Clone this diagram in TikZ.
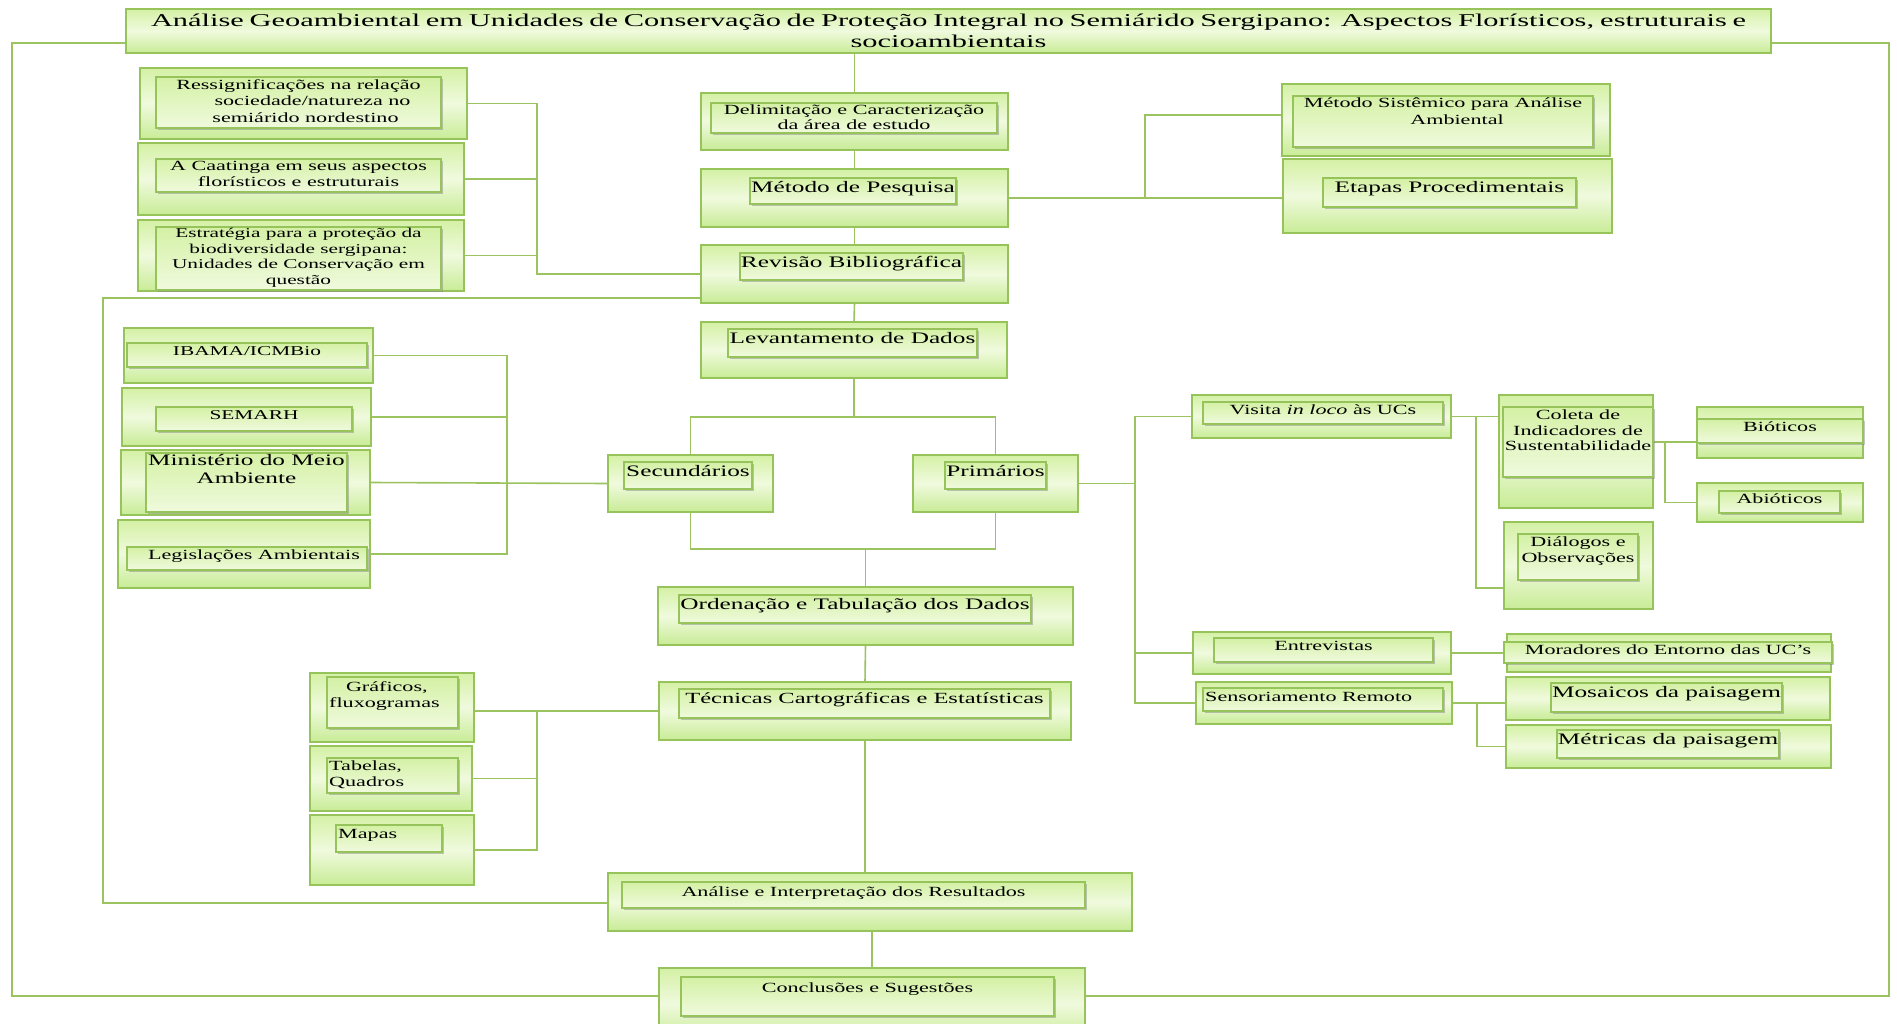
\documentclass[tikz,border=0pt]{standalone}
\usepackage{fontspec}
\setmainfont{Liberation Serif}[FakeStretch=1.58]
\newfontfamily\titlefont{Liberation Serif}[FakeStretch=1.69]
\usepackage{tikz}
\usetikzlibrary{positioning}
\usetikzlibrary{backgrounds}
\usetikzlibrary{shadows}
\definecolor{gline}{RGB}{155,195,95}
\definecolor{gborder}{RGB}{150,195,90}
\definecolor{gtop}{RGB}{212,241,165}
\definecolor{gmid}{RGB}{240,250,222}
\definecolor{gbot}{RGB}{200,236,150}
\newcommand{\fsz}[2]{\fontsize{#1}{#2}\selectfont}
\tikzset{outerbox/.style={draw=gborder, line width=1.6pt, top color=gtop, bottom color=gbot, middle color=gmid, inner sep=0pt, outer sep=0pt},
 innerbox/.style={draw=gborder, line width=1.4pt, top color=gtop, bottom color=gmid, inner sep=0pt, outer sep=0pt,
   drop shadow={shadow xshift=1.5pt, shadow yshift=-2pt, opacity=.45}},
 link/.style={draw=gline, line width=1.6pt},
 txt/.style={anchor=north, inner sep=0pt, align=center, text=black},
 }
\newcommand{\obox}[5]{\node[outerbox, minimum width={(#4-#2)*1pt}, minimum height={(#5-#3)*1pt}] (#1) at ({(#2+#4)/2},{(#3+#5)/2}) {};}
\newcommand{\ibox}[5]{\node[innerbox, minimum width={(#4-#2)*1pt}, minimum height={(#5-#3)*1pt}] (#1) at ({(#2+#4)/2},{(#3+#5)/2}) {};}

\begin{document}
\begin{tikzpicture}[x=1pt, y=-1pt]
        \useasboundingbox (0,0) rectangle (1897,1024);
        % title
        \obox{titulo}{126}{9}{1771}{53}
        \node[txt, anchor=center, font={\titlefont\fsz{18}{21}}] (tituloT) at (titulo.center) {\makebox[1595pt][s]{Análise Geoambiental em Unidades de Conservação de Proteção Integral no Semiárido Sergipano: Aspectos Florísticos, estruturais e}\\ socioambientais};
        % central column
        \obox{delim}{701}{93}{1008}{150}
        \ibox{delimIn}{711}{103}{997}{133}
        \node[txt, font={\fsz{14}{15}}, below=2pt of delimIn.north] (delimT) {Delimitação  e Caracterização\\ da área de estudo};
        \obox{metodo}{701}{169}{1008}{227}
        \ibox{metodoIn}{750}{178}{956}{204}
        \node[txt, font={\fsz{16}{18}}, below=3pt of metodoIn.north] (metodoT) {Método de Pesquisa};
        \obox{revisao}{701}{245}{1008}{303}
        \ibox{revisaoIn}{740}{253}{963}{280}
        \node[txt, font={\fsz{16}{18}}, below=3pt of revisaoIn.north] (revisaoT) {Revisão Bibliográfica};
        \obox{levant}{701}{322}{1007}{378}
        \ibox{levantIn}{728}{329}{977}{357}
        \node[txt, font={\fsz{16}{18}}, below=3pt of levantIn.north] (levantT) {Levantamento de Dados};
        \obox{secund}{608}{455}{773}{512}
        \ibox{secundIn}{624}{462}{752}{489}
        \node[txt, font={\fsz{16}{18}}, below=3pt of secundIn.north] (secundT) {Secundários};
        \obox{prim}{913}{455}{1078}{512}
        \ibox{primIn}{945}{462}{1046}{489}
        \node[txt, font={\fsz{16}{18}}, below=3pt of primIn.north] (primT) {Primários};
        \obox{ordena}{658}{587}{1073}{645}
        \ibox{ordenaIn}{679}{595}{1031}{623}
        \node[txt, font={\fsz{16}{18}}, below=3pt of ordenaIn.north] (ordenaT) {Ordenação  e  Tabulação dos Dados};
        \obox{tecnicas}{659}{682}{1071}{740}
        \ibox{tecnicasIn}{679}{689}{1050}{718}
        \node[txt, font={\fsz{15.5}{18}}, below=3pt of tecnicasIn.north] (tecnicasT) {Técnicas  Cartográficas e Estatísticas};
        \obox{analise}{608}{873}{1132}{931}
        \ibox{analiseIn}{622}{882}{1085}{908}
        \node[txt, font={\fsz{14}{16}}, below=5pt of analiseIn.north] (analiseT) {Análise  e Interpretação dos Resultados};
        \obox{conclus}{659}{968}{1085}{1040}
        \ibox{conclusIn}{681}{977}{1054}{1016}
        \node[txt, font={\fsz{14}{16}}, below=6pt of conclusIn.north] (conclusT) {Conclusões e Sugestões};
        % left column, top
        \obox{ressig}{140}{68}{467}{139}
        \ibox{ressigIn}{156}{77}{441}{128}
        \node[txt, font={\fsz{14}{16.5}}, below=2pt of ressigIn.north] (ressigT) {Ressignificações na relação\\ \hspace{2em}sociedade/natureza no\\ \hspace{1em}semiárido  nordestino};
        \obox{caat}{138}{143}{464}{215}
        \ibox{caatIn}{156}{159}{441}{192}
        \node[txt, font={\fsz{14}{16}}, below=2pt of caatIn.north] (caatT) {A Caatinga  em seus aspectos\\ florísticos e estruturais};
        \obox{estr}{138}{220}{464}{291}
        \ibox{estrIn}{156}{227}{441}{290}
        \node[txt, font={\fsz{13.5}{15.6}}, below=1pt of estrIn.north] (estrT) {Estratégia  para a proteção da\\ biodiversidade sergipana:\\ Unidades  de Conservação em\\ questão};
        % left column, sources
        \obox{ibama}{124}{328}{373}{383}
        \ibox{ibamaIn}{127}{343}{367}{367}
        \node[txt, font={\fsz{13.5}{15}}, below=3pt of ibamaIn.north] (ibamaT) {IBAMA/ICMBio};
        \obox{semarh}{122}{388}{371}{446}
        \ibox{semarhIn}{156}{407}{352}{431}
        \node[txt, font={\fsz{13.5}{15}}, below=3pt of semarhIn.north] (semarhT) {SEMARH};
        \obox{minist}{121}{450}{370}{515}
        \ibox{ministIn}{146}{453}{347}{512}
        \node[txt, font={\fsz{16}{18}}, below=1pt of ministIn.north] (ministT) {Ministério do Meio\\ Ambiente};
        \obox{legis}{118}{520}{370}{588}
        \ibox{legisIn}{127}{547}{367}{570}
        \node[txt, font={\fsz{14}{16}}, below=3pt of legisIn.north] (legisT) {\hspace{1em}Legislações  Ambientais};
        % left column, products
        \obox{graficos}{310}{673}{474}{742}
        \ibox{graficosIn}{327}{677}{458}{728}
        \node[txt, anchor=north west, align=left, font={\fsz{14}{16}}, below right=4pt and 2pt of graficosIn.north west] (graficosT) {\hspace{1.2em}Gráficos,\\ fluxogramas};
        \obox{tabelas}{310}{746}{472}{811}
        \ibox{tabelasIn}{327}{758}{458}{793}
        \node[txt, anchor=north west, align=left, font={\fsz{14}{16}}, below right=3pt and 2pt of tabelasIn.north west] (tabelasT) {Tabelas,\\ Quadros};
        \obox{mapas}{310}{815}{474}{885}
        \ibox{mapasIn}{336}{825}{442}{852}
        \node[txt, anchor=north west, align=left, font={\fsz{14}{16}}, below right=4pt and 2pt of mapasIn.north west] (mapasT) {Mapas};
        % right side
        \obox{sistem}{1282}{84}{1610}{156}
        \ibox{sistemIn}{1293}{96}{1593}{147}
        \node[txt, font={\fsz{14}{16.5}}, below=2pt of sistemIn.north] (sistemT) {Método Sistêmico para Análise\\ \hspace{2em}Ambiental};
        \obox{etapas}{1283}{159}{1612}{233}
        \ibox{etapasIn}{1323}{178}{1576}{207}
        \node[txt, font={\fsz{16}{18}}, below=3pt of etapasIn.north] (etapasT) {Etapas Procedimentais};
        \obox{visita}{1192}{395}{1451}{438}
        \ibox{visitaIn}{1203}{402}{1443}{424}
        \node[txt, font={\fsz{14}{16}}, below=3pt of visitaIn.north] (visitaT) {Visita \textit{in loco} às UCs};
        \obox{entrev}{1193}{632}{1451}{674}
        \ibox{entrevIn}{1214}{638}{1433}{662}
        \node[txt, font={\fsz{14}{16}}, below=3pt of entrevIn.north] (entrevT) {Entrevistas};
        \obox{sensor}{1196}{682}{1452}{724}
        \ibox{sensorIn}{1203}{688}{1443}{711}
        \node[txt, anchor=north west, font={\fsz{14}{16}}, below right=4pt and 2pt of sensorIn.north west] (sensorT) {Sensoriamento Remoto};
        \obox{coleta}{1499}{395}{1653}{508}
        \ibox{coletaIn}{1503}{407}{1653}{477}
        \node[txt, font={\fsz{14}{15.5}}, below=3pt of coletaIn.north] (coletaT) {Coleta de\\ Indicadores de\\ Sustentabilidade};
        \obox{dialog}{1504}{522}{1653}{609}
        \ibox{dialogIn}{1518}{534}{1638}{580}
        \node[txt, font={\fsz{14}{16}}, below=3pt of dialogIn.north] (dialogT) {Diálogos e\\ Observações};
        \obox{biot}{1697}{407}{1863}{458}
        \ibox{biotIn}{1697}{419}{1863}{443}
        \node[txt, font={\fsz{14}{16}}, below=3pt of biotIn.north] (biotT) {Bióticos};
        \obox{abiot}{1697}{483}{1863}{522}
        \ibox{abiotIn}{1719}{491}{1840}{513}
        \node[txt, font={\fsz{14}{16}}, below=3pt of abiotIn.north] (abiotT) {Abióticos};
        \obox{morad}{1507}{634}{1831}{672}
        \ibox{moradIn}{1504}{642}{1832}{663}
        \node[txt, font={\fsz{14}{16}}, below=3pt of moradIn.north] (moradT) {Moradores do Entorno das UC’s};
        \obox{mosaic}{1506}{677}{1830}{720}
        \ibox{mosaicIn}{1551}{683}{1782}{712}
        \node[txt, font={\fsz{16}{18}}, below=3pt of mosaicIn.north] (mosaicT) {Mosaicos da paisagem};
        \obox{metric}{1506}{725}{1831}{768}
        \ibox{metricIn}{1557}{730}{1779}{758}
        \node[txt, font={\fsz{16}{18}}, below=3pt of metricIn.north] (metricT) {Métricas da paisagem};
        \coordinate (jBio) at (1665,442);
        % connectors
        \begin{scope}[on background layer]
        \fill[white] (0,0) rectangle (1897,1024);
        \draw[link] (titulo.west |- 0,43) -| (12,996) -- (conclus.west |- 0,996);
        \draw[link] (titulo.east |- 0,43) -| (1889,996) -- (conclus.east |- 0,996);
        \draw[link] (revisao.west |- 0,298) -| (103,903) -- (analise.west |- 0,903);
        \draw[link] (titulo.south -| delim.north) -- (delim.north);
        \draw[link] (delim.south) -- (metodo.north);
        \draw[link] (metodo.south) -- (revisao.north);
        \draw[link] (revisao.south) -- (levant.north);
        \draw[link] (levant.south) -- (levant.south |- 0,417);
        \draw[link] (secund.north) |- (prim.north |- 0,417) -- (prim.north);
        \draw[link] (secund.south) |- (prim.south |- 0,549) -- (prim.south);
        \draw[link] (ordena.north) -- (ordena.north |- 0,549);
        \draw[link] (ordena.south) -- (tecnicas.north);
        \draw[link] (tecnicas.south) -- (tecnicas.south |- analise.north);
        \draw[link] (analise.south -| conclus.north) -- (conclus.north);
        \draw[link] (ressig.east) -| (revisao.west -| 537,0) -- (revisao.west);
        \draw[link] (caat.east) -- (caat.east -| 537,0);
        \draw[link] (estr.east) -- (estr.east -| 537,0);
        \draw[link] (metodo.east) -- (etapas.west |- metodo.east);
        \draw[link] (metodo.east -| 1145,0) |- (sistem.west |- 0,115);
        \draw[link] (ibama.east) -| (legis.east -| 507,0) -- (legis.east);
        \draw[link] (semarh.east) -- (semarh.east -| 507,0);
        \draw[link] (minist.east) -- (secund.west);
        \draw[link] (tecnicas.west) -- (tecnicas.west -| graficos.east);
        \draw[link] (mapas.east) -| (tecnicas.west -| 537,0);
        \draw[link] (tabelas.east) -- (tabelas.east -| 537,0);
        \draw[link] (prim.east) -- (prim.east -| 1135,0);
        \draw[link] (visita.west) -| (sensor.west -| 1135,0) -- (sensor.west);
        \draw[link] (entrev.west) -- (entrev.west -| 1135,0);
        \draw[link] (visita.east) -- (coleta.west |- visita.east);
        \draw[link] (visita.east -| 1476,0) |- (dialog.west |- 0,588);
        \draw[link] (coleta.east |- jBio) -- (biot.west |- jBio);
        \draw[link] (jBio) |- (abiot.west);
        \draw[link] (entrev.east) -- (morad.west);
        \draw[link] (sensor.east) -- (mosaic.west |- sensor.east);
        \draw[link] (sensor.east -| 1477,0) |- (metric.west);
        \end{scope}
    \end{tikzpicture}
\end{document}
